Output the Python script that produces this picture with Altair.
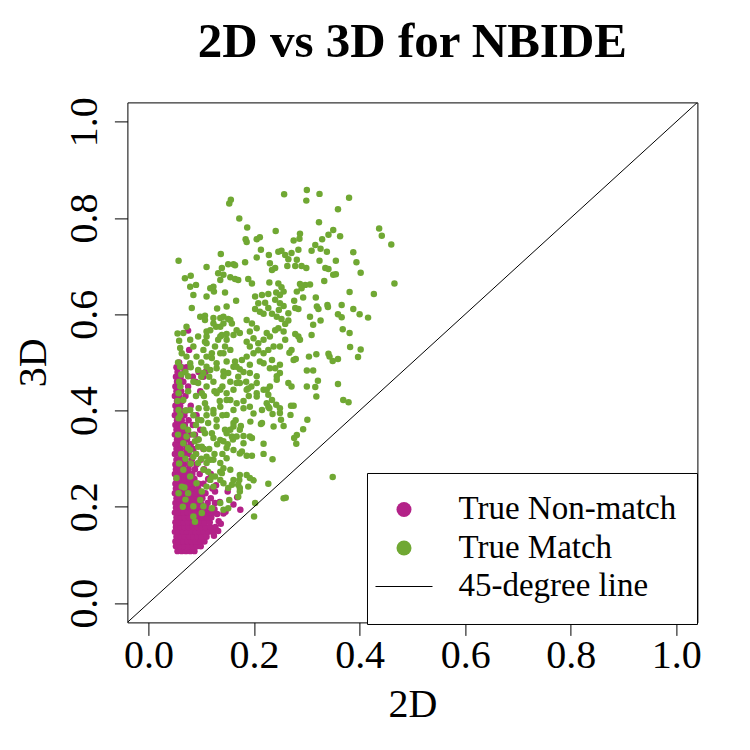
import altair as alt
import pandas as pd

TITLE = "2D vs 3D for NBIDE"
X_TITLE = "2D"
Y_TITLE = "3D"
GROUPS = ["True Non-match", "True Match", "45-degree line"]
COLORS = ["#B32288", "#70A833", "#000000"]
SHAPES = ["circle", "circle", "M-3.8,-0.07L3.8,-0.07L3.8,0.07L-3.8,0.07Z"]
TICKS = [0.0, 0.2, 0.4, 0.6, 0.8, 1.0]
AXIS_RANGE = [-0.04, 1.04]
LINE_PTS = [(-0.04, -0.04), (1.04, 1.04)]
FONT = "Liberation Serif"

# True Non-match: rows of (3D value, [2D values])
NONMATCH_ROWS = [
    (0.108, [0.055, 0.063, 0.071, 0.079, 0.087]),
    (0.118, [0.052, 0.060, 0.068, 0.076, 0.084, 0.092, 0.099]),
    (0.128, [0.051, 0.058, 0.066, 0.074, 0.082, 0.090, 0.098, 0.106]),
    (0.138, [0.053, 0.061, 0.069, 0.077, 0.085, 0.093, 0.101, 0.110]),
    (0.148, [0.050, 0.057, 0.065, 0.073, 0.081, 0.089, 0.097, 0.105, 0.114, 0.122]),
    (0.158, [0.052, 0.060, 0.068, 0.076, 0.084, 0.092, 0.100, 0.108, 0.117, 0.127]),
    (0.168, [0.051, 0.059, 0.067, 0.075, 0.083, 0.091, 0.099, 0.107, 0.116]),
    (0.178, [0.053, 0.061, 0.069, 0.077, 0.085, 0.093, 0.101, 0.110, 0.119]),
    (0.188, [0.050, 0.058, 0.066, 0.074, 0.082, 0.090, 0.098, 0.106, 0.115, 0.124]),
    (0.198, [0.052, 0.060, 0.068, 0.076, 0.084, 0.092, 0.100, 0.109]),
    (0.208, [0.051, 0.059, 0.067, 0.075, 0.083, 0.091, 0.099, 0.112, 0.126]),
    (0.218, [0.053, 0.061, 0.069, 0.077, 0.085, 0.093, 0.102, 0.118]),
    (0.228, [0.050, 0.058, 0.066, 0.074, 0.082, 0.090, 0.098, 0.108]),
    (0.238, [0.052, 0.060, 0.068, 0.076, 0.084, 0.094, 0.121]),
    (0.248, [0.051, 0.059, 0.067, 0.075, 0.083, 0.095, 0.104]),
    (0.258, [0.053, 0.061, 0.069, 0.077, 0.087, 0.113]),
    (0.268, [0.050, 0.058, 0.066, 0.074, 0.083, 0.097]),
    (0.278, [0.052, 0.060, 0.068, 0.076, 0.088, 0.105]),
    (0.288, [0.051, 0.059, 0.067, 0.078, 0.091]),
    (0.298, [0.053, 0.061, 0.070, 0.082, 0.099]),
    (0.310, [0.050, 0.058, 0.066, 0.076, 0.090]),
    (0.320, [0.053, 0.061, 0.072, 0.085, 0.104]),
    (0.330, [0.051, 0.059, 0.068, 0.080]),
    (0.340, [0.054, 0.062, 0.073, 0.094]),
    (0.350, [0.050, 0.058, 0.067, 0.079, 0.088]),
    (0.360, [0.053, 0.061, 0.071, 0.098]),
    (0.370, [0.051, 0.059, 0.069, 0.084]),
    (0.380, [0.054, 0.063, 0.076]),
    (0.390, [0.050, 0.058, 0.068, 0.091]),
    (0.400, [0.053, 0.061, 0.072]),
    (0.410, [0.051, 0.060, 0.080]),
    (0.420, [0.054, 0.064]),
    (0.430, [0.050, 0.058, 0.070]),
    (0.440, [0.053, 0.062, 0.098]),
    (0.450, [0.051, 0.060, 0.075]),
    (0.460, [0.054, 0.066, 0.089]),
    (0.470, [0.052, 0.061, 0.084, 0.104]),
    (0.480, [0.055, 0.068, 0.095, 0.108]),
    (0.490, [0.053, 0.063, 0.072]),
    (0.500, [0.058]),
]
NONMATCH_EXTRA = [
    (0.075, 0.566), (0.077, 0.526), (0.168, 0.220), (0.174, 0.194), (0.161, 0.205),
    (0.142, 0.186), (0.133, 0.170), (0.135, 0.210), (0.150, 0.232), (0.128, 0.245),
    (0.137, 0.165), (0.146, 0.190), (0.126, 0.232), (0.130, 0.185), (0.118, 0.268),
    (0.125, 0.195), (0.132, 0.150), (0.124, 0.140),
]

# True Match: (2D, 3D) pairs
MATCH_PTS = [
    (0.153, 0.830), (0.156, 0.838), (0.257, 0.849), (0.300, 0.858), (0.299, 0.836), (0.324, 0.850),
    (0.380, 0.842), (0.359, 0.818), (0.323, 0.791), (0.172, 0.799), (0.187, 0.780), (0.241, 0.773),
    (0.184, 0.756), (0.186, 0.750), (0.205, 0.756), (0.211, 0.760), (0.287, 0.767), (0.286, 0.757),
    (0.275, 0.753), (0.350, 0.775), (0.341, 0.765), (0.329, 0.756), (0.363, 0.762), (0.437, 0.778),
    (0.442, 0.763), (0.460, 0.745), (0.466, 0.664), (0.427, 0.642), (0.388, 0.729), (0.394, 0.708),
    (0.402, 0.686), (0.381, 0.646), (0.366, 0.619), (0.388, 0.611), (0.400, 0.600), (0.416, 0.593),
    (0.359, 0.600), (0.366, 0.594), (0.368, 0.569), (0.381, 0.561), (0.382, 0.532), (0.402, 0.527),
    (0.397, 0.511), (0.359, 0.455), (0.369, 0.422), (0.379, 0.417), (0.318, 0.429), (0.300, 0.450),
    (0.316, 0.449), (0.321, 0.462), (0.301, 0.381), (0.293, 0.361), (0.281, 0.349), (0.280, 0.331),
    (0.276, 0.343), (0.349, 0.262), (0.227, 0.248), (0.235, 0.299), (0.218, 0.310), (0.218, 0.331),
    (0.196, 0.306), (0.186, 0.306), (0.196, 0.343), (0.180, 0.347),
    (0.256, 0.368), (0.251, 0.381), (0.249, 0.395), (0.269, 0.391), (0.270, 0.410), (0.275, 0.410),
    (0.213, 0.372), (0.193, 0.377), (0.175, 0.368),
    (0.229, 0.405), (0.242, 0.412), (0.235, 0.393), (0.249, 0.405),
    (0.300, 0.483), (0.312, 0.483), (0.318, 0.517), (0.304, 0.512), (0.343, 0.512), (0.349, 0.503),
    (0.359, 0.507), (0.341, 0.518),
    (0.279, 0.507), (0.271, 0.526), (0.267, 0.520), (0.287, 0.547), (0.284, 0.554), (0.278, 0.559),
    (0.309, 0.557), (0.312, 0.578), (0.326, 0.587), (0.306, 0.595),
    (0.319, 0.616), (0.322, 0.611), (0.339, 0.619), (0.340, 0.615), (0.284, 0.611), (0.276, 0.628),
    (0.293, 0.635), (0.317, 0.635),
    (0.333, 0.669), (0.355, 0.683), (0.350, 0.682), (0.335, 0.696), (0.341, 0.694), (0.324, 0.711),
    (0.326, 0.736), (0.309, 0.732), (0.316, 0.744), (0.338, 0.730), (0.355, 0.711),
    (0.287, 0.663), (0.297, 0.661), (0.306, 0.662), (0.290, 0.654), (0.281, 0.647),
    (0.252, 0.732), (0.259, 0.723), (0.265, 0.714), (0.271, 0.727), (0.281, 0.713), (0.290, 0.700),
    (0.299, 0.696), (0.278, 0.700), (0.263, 0.700), (0.284, 0.734), (0.246, 0.730), (0.230, 0.706),
    (0.240, 0.696), (0.234, 0.692),
    (0.228, 0.723), (0.213, 0.734), (0.205, 0.718), (0.183, 0.708), (0.161, 0.704), (0.151, 0.704),
    (0.137, 0.725), (0.110, 0.698), (0.139, 0.696), (0.132, 0.685), (0.142, 0.682), (0.155, 0.677),
    (0.164, 0.673), (0.170, 0.671), (0.189, 0.673), (0.196, 0.664),
    (0.229, 0.666), (0.246, 0.664), (0.252, 0.656), (0.256, 0.647), (0.249, 0.640), (0.242, 0.645),
    (0.123, 0.657), (0.117, 0.654), (0.124, 0.647), (0.110, 0.637), (0.145, 0.645),
    (0.166, 0.628), (0.148, 0.616), (0.130, 0.612), (0.123, 0.592), (0.107, 0.597),
    (0.202, 0.637), (0.215, 0.640), (0.227, 0.642), (0.208, 0.623), (0.221, 0.624), (0.240, 0.630),
    (0.249, 0.623), (0.247, 0.609), (0.256, 0.617), (0.265, 0.602), (0.278, 0.613),
    (0.202, 0.611), (0.211, 0.605), (0.227, 0.613), (0.218, 0.601), (0.234, 0.601), (0.243, 0.595),
    (0.252, 0.590), (0.259, 0.580), (0.265, 0.587),
    (0.136, 0.592), (0.142, 0.581), (0.151, 0.590), (0.158, 0.581), (0.167, 0.567), (0.173, 0.561),
    (0.161, 0.557), (0.148, 0.559), (0.139, 0.557), (0.132, 0.547), (0.128, 0.574), (0.117, 0.567),
    (0.110, 0.554), (0.107, 0.543),
    (0.186, 0.588), (0.196, 0.581), (0.205, 0.571), (0.192, 0.564), (0.199, 0.550), (0.186, 0.543),
    (0.192, 0.533), (0.208, 0.540), (0.218, 0.547), (0.224, 0.561), (0.230, 0.554), (0.240, 0.567),
    (0.246, 0.571), (0.256, 0.564), (0.259, 0.547), (0.249, 0.533), (0.237, 0.533), (0.227, 0.526),
    (0.218, 0.519), (0.208, 0.525), (0.199, 0.519), (0.186, 0.512), (0.177, 0.505), (0.164, 0.502),
    (0.155, 0.526), (0.145, 0.533), (0.136, 0.519), (0.126, 0.533), (0.120, 0.509), (0.110, 0.512),
    (0.161, 0.491), (0.173, 0.486), (0.151, 0.478), (0.142, 0.481), (0.129, 0.488), (0.117, 0.484),
    (0.104, 0.478), (0.192, 0.478), (0.205, 0.471), (0.218, 0.498), (0.234, 0.505), (0.240, 0.488),
    (0.249, 0.478), (0.243, 0.464), (0.265, 0.457), (0.271, 0.450), (0.230, 0.450), (0.218, 0.443),
    (0.205, 0.436), (0.189, 0.446), (0.173, 0.457), (0.161, 0.443), (0.148, 0.436), (0.136, 0.443),
    (0.123, 0.460), (0.110, 0.450), (0.101, 0.436),
    (0.155, 0.422), (0.167, 0.415), (0.180, 0.405), (0.161, 0.401), (0.148, 0.391), (0.136, 0.408),
    (0.123, 0.394), (0.110, 0.405), (0.113, 0.374), (0.129, 0.367), (0.145, 0.360), (0.161, 0.374),
    (0.173, 0.360), (0.158, 0.346), (0.142, 0.336), (0.123, 0.343), (0.107, 0.353), (0.101, 0.325),
    (0.192, 0.408), (0.199, 0.394), (0.215, 0.401), (0.224, 0.415), (0.227, 0.433),
    (0.173, 0.311), (0.161, 0.318), (0.148, 0.301), (0.136, 0.291), (0.123, 0.298), (0.110, 0.304),
    (0.104, 0.277), (0.120, 0.263), (0.136, 0.273), (0.155, 0.277), (0.173, 0.266), (0.186, 0.266),
    (0.199, 0.255), (0.161, 0.256), (0.142, 0.249), (0.123, 0.242), (0.170, 0.246), (0.173, 0.239),
    (0.202, 0.208), (0.200, 0.180), (0.256, 0.218), (0.260, 0.219), (0.189, 0.242), (0.173, 0.232),
    (0.170, 0.221), (0.151, 0.239), (0.158, 0.246), (0.153, 0.214), (0.151, 0.197), (0.142, 0.194),
    (0.136, 0.208), (0.120, 0.197), (0.104, 0.201), (0.101, 0.187), (0.085, 0.180), (0.088, 0.169),
    (0.139, 0.270), (0.142, 0.280), (0.136, 0.256), (0.126, 0.263), (0.113, 0.273), (0.110, 0.291),
    (0.117, 0.298), (0.172, 0.256), (0.192, 0.260),
    (0.066, 0.332), (0.075, 0.322), (0.085, 0.304), (0.094, 0.291), (0.066, 0.277), (0.079, 0.263),
    (0.091, 0.249), (0.063, 0.242), (0.075, 0.228), (0.101, 0.232), (0.110, 0.242), (0.098, 0.214),
    (0.085, 0.201), (0.117, 0.256), (0.053, 0.260), (0.057, 0.228),
    (0.060, 0.491), (0.079, 0.498), (0.094, 0.484), (0.110, 0.491), (0.129, 0.498), (0.148, 0.502),
    (0.167, 0.491), (0.192, 0.495), (0.211, 0.502), (0.230, 0.488), (0.249, 0.495), (0.275, 0.505),
    (0.237, 0.367), (0.227, 0.408), (0.192, 0.346), (0.180, 0.332), (0.177, 0.315), (0.148, 0.322),
    (0.136, 0.339), (0.120, 0.353), (0.104, 0.360), (0.129, 0.381), (0.148, 0.422), (0.129, 0.436),
    (0.094, 0.457), (0.075, 0.471), (0.060, 0.450), (0.066, 0.422), (0.079, 0.401), (0.094, 0.381),
    (0.066, 0.367), (0.057, 0.436), (0.107, 0.415), (0.123, 0.401), (0.142, 0.471), (0.167, 0.457),
    (0.186, 0.443), (0.205, 0.457), (0.224, 0.443), (0.243, 0.471), (0.205, 0.429), (0.234, 0.422),
    (0.161, 0.367), (0.148, 0.353), (0.167, 0.346), (0.215, 0.374), (0.072, 0.346), (0.088, 0.336),
    (0.079, 0.318), (0.094, 0.325), (0.057, 0.401), (0.057, 0.384),
    (0.057, 0.711), (0.069, 0.675), (0.080, 0.680), (0.079, 0.657), (0.090, 0.661), (0.085, 0.640),
    (0.136, 0.671), (0.164, 0.702), (0.082, 0.613), (0.098, 0.595), (0.107, 0.588), (0.072, 0.574),
    (0.066, 0.561), (0.079, 0.547), (0.063, 0.519), (0.085, 0.533), (0.094, 0.554), (0.110, 0.564),
    (0.123, 0.581), (0.136, 0.574), (0.142, 0.595), (0.155, 0.588), (0.136, 0.554), (0.148, 0.547),
    (0.110, 0.540), (0.104, 0.526), (0.120, 0.519), (0.142, 0.519), (0.091, 0.512), (0.072, 0.512),
    (0.055, 0.560), (0.058, 0.545), (0.060, 0.530), (0.056, 0.500), (0.062, 0.475), (0.058, 0.460),
    (0.055, 0.420), (0.060, 0.390), (0.056, 0.350), (0.062, 0.310), (0.058, 0.290), (0.065, 0.200),
    (0.070, 0.215), (0.068, 0.240),
    (0.070, 0.300), (0.080, 0.290), (0.090, 0.310), (0.100, 0.300), (0.105, 0.320), (0.095, 0.340),
    (0.085, 0.350), (0.075, 0.360), (0.090, 0.370), (0.100, 0.380), (0.110, 0.390), (0.085, 0.390),
    (0.070, 0.400), (0.095, 0.405), (0.105, 0.430), (0.090, 0.430), (0.075, 0.440), (0.085, 0.460),
    (0.100, 0.470), (0.070, 0.480), (0.080, 0.490), (0.100, 0.500), (0.115, 0.470), (0.125, 0.440),
    (0.135, 0.420), (0.140, 0.390), (0.130, 0.330), (0.115, 0.320), (0.125, 0.310), (0.140, 0.310),
    (0.150, 0.330), (0.160, 0.340), (0.155, 0.360), (0.165, 0.380), (0.140, 0.450), (0.155, 0.460),
    (0.170, 0.470), (0.180, 0.480), (0.185, 0.460), (0.195, 0.450), (0.180, 0.420), (0.190, 0.430),
]

rows = [(x, y, GROUPS[0]) for y, xs in NONMATCH_ROWS for x in xs]
rows += [(x, y, GROUPS[0]) for x, y in NONMATCH_EXTRA]
rows += [(x, y, GROUPS[1]) for x, y in MATCH_PTS]
pts = pd.DataFrame(rows, columns=["x", "y", "group"])
line = pd.DataFrame(LINE_PTS, columns=["x", "y"])

W, H = 570, 520

xenc = alt.X(
    "x:Q",
    scale=alt.Scale(domain=AXIS_RANGE, nice=False, zero=False),
    axis=alt.Axis(
        values=TICKS, format=".1f", title=X_TITLE, grid=False, domain=False,
        tickSize=13, tickColor="black", tickWidth=1,
        labelFont=FONT, labelFontSize=40, labelColor="black",
        labelPadding=32.4, labelBaseline="alphabetic", labelFlush=False, labelOverlap=False,
        titleFont=FONT, titleFontSize=40, titleFontWeight="normal", titleColor="black",
        titleBaseline="alphabetic", titleAlign="center", titleX=W / 2, titleY=94.1,
    ),
)
yenc = alt.Y(
    "y:Q",
    scale=alt.Scale(domain=AXIS_RANGE, nice=False, zero=False),
    axis=alt.Axis(
        values=TICKS, format=".1f", title=Y_TITLE, grid=False, domain=False,
        tickSize=13, tickColor="black", tickWidth=1,
        labelFont=FONT, labelFontSize=40, labelColor="black",
        labelAngle=270, labelAlign="center", labelBaseline="alphabetic",
        labelPadding=17.7, labelFlush=False, labelOverlap=False,
        titleFont=FONT, titleFontSize=40, titleFontWeight="normal", titleColor="black",
        titleAngle=270, titleBaseline="alphabetic", titleAlign="center",
        titleX=-81.4, titleY=H / 2,
    ),
)

legend = alt.Legend(
    title=None, orient="none", legendX=239.6, legendY=370.6,
    padding=20, rowPadding=4.5, symbolOffset=0.5, labelOffset=38,
    symbolSize=225, symbolStrokeWidth=0,
    labelFont=FONT, labelFontSize=33, labelColor="black", labelLimit=400,
    strokeColor="black", fillColor="white", cornerRadius=0,
)

points = alt.Chart(pts).mark_point(filled=True, size=42, opacity=1, clip=True).encode(
    x=xenc,
    y=yenc,
    color=alt.Color("group:N", scale=alt.Scale(domain=GROUPS, range=COLORS), legend=legend),
    shape=alt.Shape("group:N", scale=alt.Scale(domain=GROUPS, range=SHAPES), legend=legend),
)

diag = alt.Chart(line).mark_line(color="black", strokeWidth=1, clip=True).encode(
    x=xenc, y=yenc
)

chart = alt.layer(points, diag).properties(
    width=W, height=H,
    background="white",
    title=alt.TitleParams(
        TITLE, font=FONT, fontSize=49, fontWeight="bold", color="black",
        anchor="middle", baseline="bottom", offset=27, dy=46,
    ),
    autosize="none",
    padding={"left": 119.4, "top": 94.4, "right": 40, "bottom": 115},
).configure_view(stroke="black", strokeWidth=1)

chart.save("out.html", embed_options={"renderer": "svg", "actions": False})
